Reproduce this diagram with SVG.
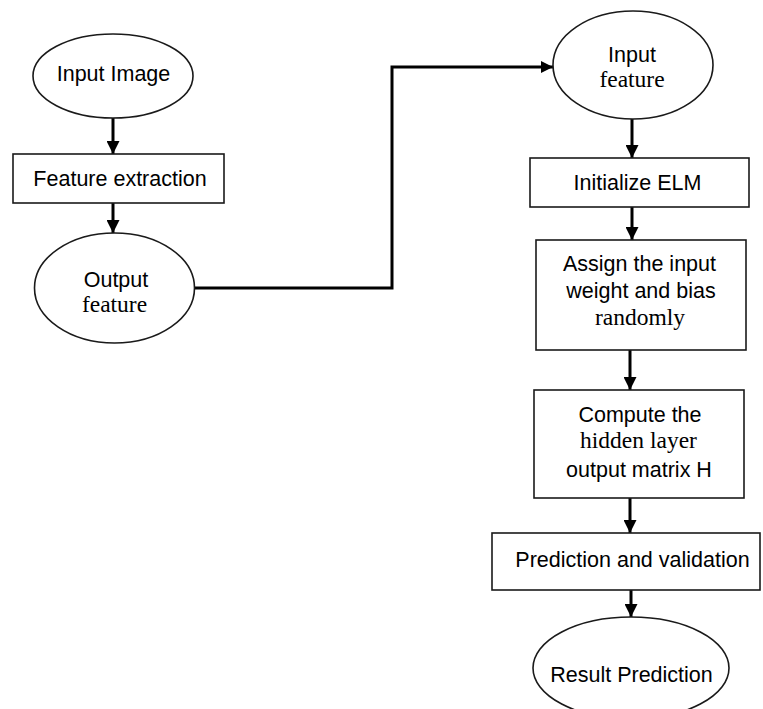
<svg xmlns="http://www.w3.org/2000/svg" width="763" height="709" viewBox="0 0 763 709">
  <style>
    .shape { fill: #ffffff; stroke: #1a1a1a; stroke-width: 1.6; }
    .sans { font-family: "Liberation Sans", Arial, sans-serif; font-size: 21.5px; fill: #000; text-anchor: middle; }
    .serif { font-family: "Liberation Serif", "Times New Roman", serif; font-size: 23.5px; fill: #000; text-anchor: middle; }
    .link { fill: none; stroke: #000; stroke-width: 3; }
  </style>
  <defs>
    <marker id="head" viewBox="0 0 12 12" refX="12" refY="6" markerWidth="12" markerHeight="12" markerUnits="userSpaceOnUse" orient="auto">
      <path d="M0,0 L12,6 L0,12 Z" fill="#000"/>
    </marker>
    <marker id="headv" viewBox="0 0 13 13" refX="13" refY="6.5" markerWidth="13" markerHeight="13" markerUnits="userSpaceOnUse" orient="auto">
      <path d="M0,0 L13,6.5 L0,13 Z" fill="#000"/>
    </marker>
  </defs>
  <rect width="763" height="709" fill="#ffffff"/>

  <!-- connectors -->
  <g id="connectors">
    <line class="link" x1="113" y1="118" x2="113" y2="154" marker-end="url(#headv)"/>
    <line class="link" x1="113" y1="203" x2="113" y2="233" marker-end="url(#headv)"/>
    <polyline class="link" points="194,288 392,288 392,67 553,67" stroke-width="2.6" marker-end="url(#head)"/>
    <line class="link" x1="632" y1="119" x2="632" y2="158" marker-end="url(#headv)"/>
    <line class="link" x1="632" y1="207" x2="632" y2="240" marker-end="url(#headv)"/>
    <line class="link" x1="630" y1="350" x2="630" y2="390" marker-end="url(#headv)"/>
    <line class="link" x1="630" y1="498" x2="630" y2="533" marker-end="url(#headv)"/>
    <line class="link" x1="631" y1="590" x2="631" y2="617" marker-end="url(#headv)"/>
  </g>

  <!-- left column -->
  <g id="input-image">
    <ellipse class="shape" cx="113" cy="76" rx="80" ry="42"/>
    <text class="sans" x="113.5" y="81">Input Image</text>
  </g>
  <g id="feature-extraction">
    <rect class="shape" x="13" y="154" width="211" height="49"/>
    <text class="sans" x="120" y="186">Feature extraction</text>
  </g>
  <g id="output-feature">
    <ellipse class="shape" cx="114.5" cy="288" rx="80" ry="55"/>
    <text class="sans" x="116" y="287">Output</text>
    <text class="serif" x="114.5" y="312">feature</text>
  </g>

  <!-- right column -->
  <g id="input-feature">
    <ellipse class="shape" cx="633" cy="65" rx="80" ry="54"/>
    <text class="sans" x="632" y="62">Input</text>
    <text class="serif" x="632" y="87">feature</text>
  </g>
  <g id="initialize-elm">
    <rect class="shape" x="530" y="158" width="219" height="49"/>
    <text class="sans" x="637.5" y="190">Initialize ELM</text>
  </g>
  <g id="assign-weights">
    <rect class="shape" x="536" y="240" width="210" height="110"/>
    <text class="sans" x="639.5" y="271">Assign the input</text>
    <text class="sans" x="641" y="298">weight and bias</text>
    <text class="serif" x="640" y="325">randomly</text>
  </g>
  <g id="compute-hidden">
    <rect class="shape" x="534" y="390" width="210" height="108"/>
    <text class="sans" x="640" y="422">Compute the</text>
    <text class="serif" x="638.5" y="448">hidden layer</text>
    <text class="sans" x="639" y="477">output matrix H</text>
  </g>
  <g id="prediction-validation">
    <rect class="shape" x="492" y="533" width="268" height="57"/>
    <text class="sans" x="632.5" y="567">Prediction and validation</text>
  </g>
  <g id="result-prediction">
    <ellipse class="shape" cx="631" cy="668" rx="98" ry="51"/>
    <text class="sans" x="631.5" y="682">Result Prediction</text>
  </g>
</svg>
